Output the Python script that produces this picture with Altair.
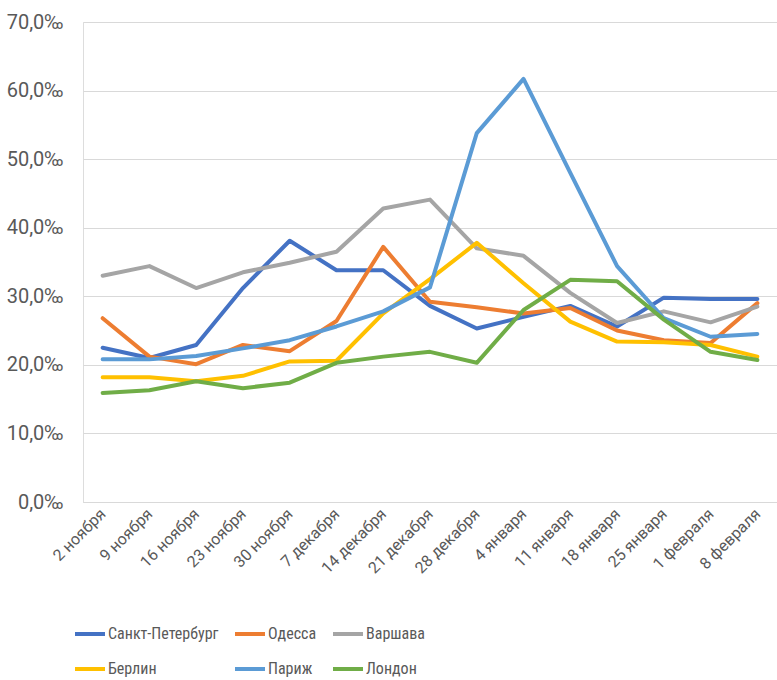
import altair as alt
import pandas as pd

weeks = ["2 ноября", "9 ноября", "16 ноября", "23 ноября", "30 ноября", "7 декабря",
         "14 декабря", "21 декабря", "28 декабря", "4 января", "11 января", "18 января",
         "25 января", "1 февраля", "8 февраля"]

series_names = ["Санкт-Петербург", "Одесса", "Варшава", "Берлин", "Париж", "Лондон"]
colors = ["#4472C4", "#ED7D31", "#A5A5A5", "#FFC000", "#5B9BD5", "#70AD47"]

spb = [22.5, 21.0, 22.9, 31.2, 38.1, 33.8, 33.8, 28.6, 25.3, 27.0, 28.6, 25.6, 29.8, 29.6, 29.6]
odessa = [26.8, 21.2, 20.1, 22.9, 22.0, 26.4, 37.2, 29.2, 28.4, 27.5, 28.3, 25.0, 23.6, 23.2, 29.0]
warsaw = [33.0, 34.4, 31.2, 33.5, 34.9, 36.5, 42.8, 44.1, 37.0, 35.9, 30.5, 26.1, 27.8, 26.2, 28.5]
berlin = [18.2, 18.2, 17.6, 18.4, 20.5, 20.6, 27.5, 32.5, 37.8, 31.9, 26.3, 23.4, 23.3, 22.9, 21.2]
paris = [20.8, 20.8, 21.3, 22.4, 23.6, 25.6, 27.8, 31.3, 53.8, 61.7, 48.0, 34.4, 26.8, 24.1, 24.5]
london = [15.9, 16.3, 17.6, 16.6, 17.4, 20.3, 21.2, 21.9, 20.3, 28.0, 32.4, 32.2, 26.6, 21.9, 20.7]

all_values = [spb, odessa, warsaw, berlin, paris, london]

rows = []
for order, (name, vals) in enumerate(zip(series_names, all_values)):
    for w, v in zip(weeks, vals):
        rows.append({"week": w, "city": name, "value": v, "order": order})
df = pd.DataFrame(rows)

NARROW = "Liberation Sans Narrow, Roboto Condensed, Arial Narrow, Roboto, sans-serif"
REG = "Roboto, Lato, sans-serif"
TXT = "#595959"

chart = alt.Chart(df).mark_line(strokeWidth=4, strokeCap="round", strokeJoin="round").encode(
    x=alt.X("week:N", sort=weeks,
            scale=alt.Scale(type="point", padding=0.42),
            axis=alt.Axis(title=None, labelAngle=-45, labelAlign="right", labelBaseline="middle",
                          labelPadding=9, ticks=False, domain=True, domainColor="#d9d9d9",
                          labelFont=REG, labelFontSize=16, labelColor=TXT, grid=False)),
    y=alt.Y("value:Q",
            scale=alt.Scale(domain=[0, 70], nice=False),
            axis=alt.Axis(title=None, values=[0, 10, 20, 30, 40, 50, 60, 70],
                          labelExpr="replace(format(datum.value, '.1f'), '.', ',') + '‰'",
                          ticks=False, domain=False, grid=True, gridColor="#d9d9d9",
                          gridWidth=1.2, labelPadding=20, labelFont=REG, labelFontSize=20,
                          labelColor=TXT)),
    color=alt.Color("city:N", sort=series_names,
                    scale=alt.Scale(domain=series_names, range=colors),
                    legend=alt.Legend(title=None, orient="none", legendX=-10, legendY=595,
                                      direction="horizontal",
                                      columns=3, gridAlign="each", columnPadding=8,
                                      rowPadding=10, symbolType="stroke",
                                      symbolStrokeWidth=4, symbolSize=900,
                                      labelOffset=1, labelFont=NARROW, labelFontSize=16,
                                      labelColor=TXT, labelLimit=300)),
    order=alt.Order("order:Q"),
).properties(
    width=694, height=480,
    autosize=alt.AutoSizeParams(type="none"),
    padding={"left": 83, "top": 22, "right": 0, "bottom": 178},
).configure_view(stroke=None).configure(background="white")

chart.save("out.html", embed_options={"renderer": "svg", "actions": False})
